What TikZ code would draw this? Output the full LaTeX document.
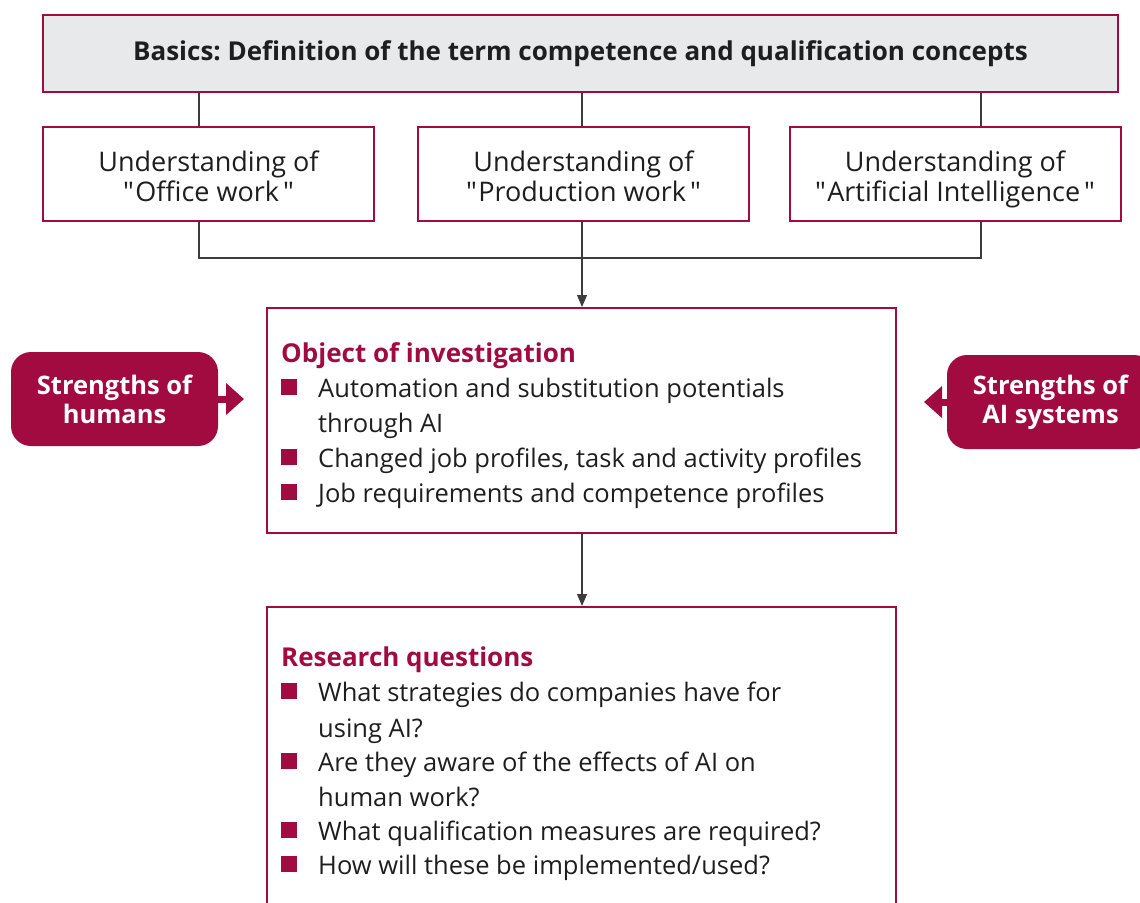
\documentclass[tikz,border=0pt]{standalone}
\usepackage{fontspec}
\setmainfont{Open Sans}[Ligatures=TeXOff]
\usetikzlibrary{arrows.meta}
\frenchspacing
\definecolor{crim}{HTML}{A20B40}
\definecolor{boxgray}{HTML}{E8E9EB}
\definecolor{linegray}{HTML}{3C3C3C}
\definecolor{ink}{HTML}{1E1E1E}
\tikzset{
  frame/.style={draw=crim, line width=2pt, inner sep=0pt},
  conn/.style={draw=linegray, line width=1.1pt},
  tip/.style={-{Triangle[length=12pt,width=10pt]}},
  strength/.style={fill=crim, rounded corners=20pt, inner sep=0pt, text=white,
    align=center, font=\fontsize{25.5}{29}\selectfont\bfseries,
    minimum width=207pt, minimum height=94pt},
  side/.style={draw=crim, line width=7pt, -{Triangle[length=18pt,width=31pt]}},
  ln/.style={anchor=base west, inner sep=0pt, text=ink, font=\fontsize{25.5}{30}\selectfont},
  hd/.style={anchor=base west, inner sep=0pt, text=crim, font=\fontsize{26}{30}\selectfont\bfseries},
  sq/.style={fill=crim, inner sep=0pt, minimum size=16pt},
  under/.style={frame, fill=white, minimum width=331pt, minimum height=94pt,
    align=center, text=ink, font=\fontsize{27}{30}\selectfont},
}
% first line of a box, with extra head room so the two lines sit lower
\newcommand{\firstline}[1]{\rule{0pt}{33pt}#1}
% quoted term with the spacing used in the boxes
\newcommand{\qq}[1]{"\kern1.5pt#1\kern4pt"\strut}
\begin{document}
\begin{tikzpicture}[x=1pt,y=-1pt]
\useasboundingbox (0,0) rectangle (1140,902);
\clip (0,0) rectangle (1140,902);

% heading box
\node[frame, fill=boxgray, minimum width=1075pt, minimum height=77pt,
  text=ink, font=\fontsize{26}{30}\selectfont\bfseries] (top) at (580.5,53.5)
  {Basics: Definition of the term competence and qualification concepts};

% the three "understanding" boxes
\node[under] (office) at (208.5,174) {\firstline{Understanding of}\\\qq{Office work}};
\node[under] (prod) at (583.5,174) {\firstline{Understanding of}\\\qq{Production work}};
\node[under] (ai) at (955,174) {\firstline{Understanding of}\\\qq{Artificial Intelligence}};

% tree lines between the heading, the three boxes and the bus
\coordinate (c1) at (199,0);
\coordinate (c2) at (582,0);
\coordinate (c3) at (981,0);
\coordinate (bus) at (582,258);
\draw[conn] (top.south -| c1) -- (office.north -| c1);
\draw[conn] (top.south -| c2) -- (prod.north -| c2);
\draw[conn] (top.south -| c3) -- (ai.north -| c3);
\draw[conn] (office.south -| c1) -- (bus -| c1) -- (bus -| c3) -- (ai.south -| c3);
\draw[conn] (prod.south -| c2) -- (bus);

% object of investigation
\node[frame, minimum width=629pt, minimum height=225pt] (obj) at (581.5,420.5) {};
\draw[conn, tip] (bus) -- (obj.north -| bus);

\node[hd] (objh) at (281,362) {Object of investigation};
\node[sq] (ob1) at (289,387) {};
\node[ln] (o1) at (318,397) {Automation and substitution potentials};
\node[ln] (o1b) at (318,432) {through AI};
\node[sq] (ob2) at (289,457) {};
\node[ln] (o2) at (318,467) {Changed job profiles, task and activity profiles};
\node[sq] (ob3) at (289,492) {};
\node[ln] (o3) at (318,502) {Job requirements and competence profiles};

% research questions
\node[frame, minimum width=629pt, minimum height=340pt] (res) at (581.5,777) {};
\draw[conn, tip] (obj.south -| bus) -- (res.north -| bus);

\node[hd] (resh) at (281,666) {Research questions};
\node[sq] (rb1) at (289,691) {};
\node[ln] (r1) at (318,701) {What strategies do companies have for};
\node[ln] (r1b) at (318,737) {using AI?};
\node[sq] (rb2) at (289,761) {};
\node[ln] (r2) at (318,771) {Are they aware of the effects of AI on};
\node[ln] (r2b) at (318,806) {human work?};
\node[sq] (rb3) at (289,830) {};
\node[ln] (r3) at (318,840) {What qualification measures are required?};
\node[sq] (rb4) at (289,864) {};
\node[ln] (r4) at (318,874) {How will these be implemented/used?};

% strengths
\node[strength] (hum) at (114.5,399) {Strengths of\\humans};
\node[strength] (ais) at (1050.5,402) {Strengths of\\AI systems};
\draw[side, shorten >=22pt] (hum.east) -- (hum.east -| obj.west);
\draw[side, shorten >=27pt] (ais.west) -- (ais.west -| obj.east);
\end{tikzpicture}
\end{document}
